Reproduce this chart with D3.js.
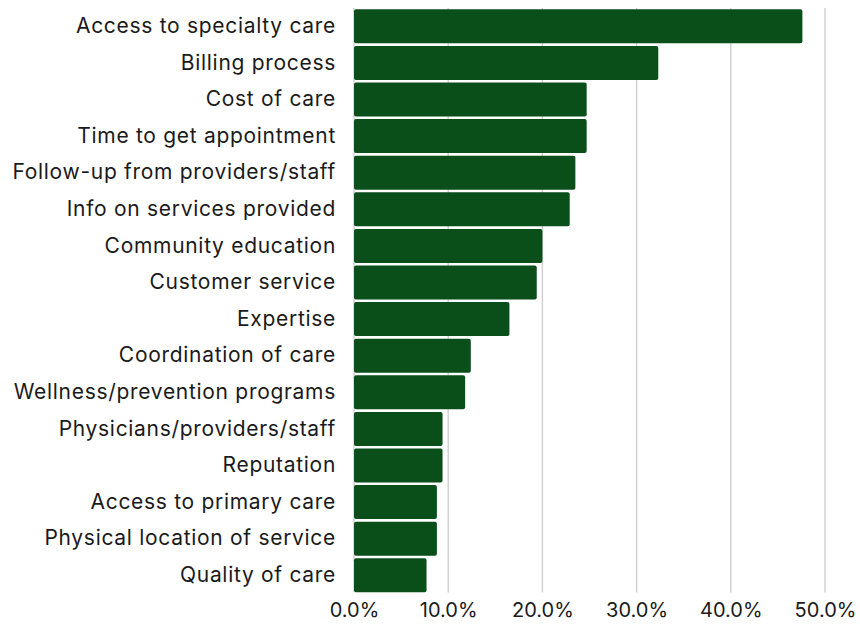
<!DOCTYPE html>
<html>
<head>
<meta charset="utf-8">
<script src="https://cdn.jsdelivr.net/npm/d3@7/dist/d3.min.js"></script>
<style>
  html, body { margin: 0; padding: 0; background: #ffffff; }
  svg text { font-family: Inter, "DejaVu Sans", sans-serif; fill: #1a1a1a; }
</style>
</head>
<body>
<svg id="chart" width="860" height="624"></svg>
<script>
// Improvement areas, ordered from most to least cited
const categories = [
  "Access to specialty care",
  "Billing process",
  "Cost of care",
  "Time to get appointment",
  "Follow-up from providers/staff",
  "Info on services provided",
  "Community education",
  "Customer service",
  "Expertise",
  "Coordination of care",
  "Wellness/prevention programs",
  "Physicians/providers/staff",
  "Reputation",
  "Access to primary care",
  "Physical location of service",
  "Quality of care"
];
// Share of respondents (percent)
const values = [47.6, 32.3, 24.7, 24.7, 23.5, 22.9, 20.0, 19.4, 16.5, 12.4, 11.8, 9.4, 9.4, 8.8, 8.8, 7.7];
const tickValues = [0, 10, 20, 30, 40, 50];

const svg = d3.select("#chart");
const x0 = 354, x1 = 825;
const yTop = 8, yBottom = 593.6;

const x = d3.scaleLinear().domain([0, 50]).range([x0, x1]);
const y = d3.scaleBand().domain(categories).range([yTop, yBottom])
  .paddingInner(0.071).paddingOuter(0.0355);

// vertical gridlines
svg.append("g").selectAll("line").data(tickValues).join("line")
  .attr("x1", d => x(d)).attr("x2", d => x(d))
  .attr("y1", yTop).attr("y2", yBottom - 1)
  .attr("stroke", "#cccccc").attr("stroke-width", 1.3);

// bars
svg.append("g").selectAll("rect").data(values).join("rect")
  .attr("x", x(0))
  .attr("y", (d, i) => y(categories[i]))
  .attr("width", d => x(d) - x(0))
  .attr("height", y.bandwidth())
  .attr("rx", 2)
  .attr("fill", "#0a4f1a");

// category labels
const yAxis = d3.axisLeft(y).tickSize(0).tickPadding(18);
svg.append("g").attr("transform", `translate(${x0},0)`).call(yAxis)
  .call(g => g.select(".domain").remove())
  .selectAll("text")
  .style("font-size", "21px")
  .style("letter-spacing", "0.7px");

// value axis labels
const xAxis = d3.axisBottom(x).tickValues(tickValues).tickSize(0).tickPadding(0)
  .tickFormat(d => d3.format(".1f")(d) + "%");
svg.append("g").attr("transform", `translate(0,${yBottom + 9})`).call(xAxis)
  .call(g => g.select(".domain").remove())
  .selectAll("text").style("font-size", "20px").attr("dy", "0.71em");
</script>
</body>
</html>
